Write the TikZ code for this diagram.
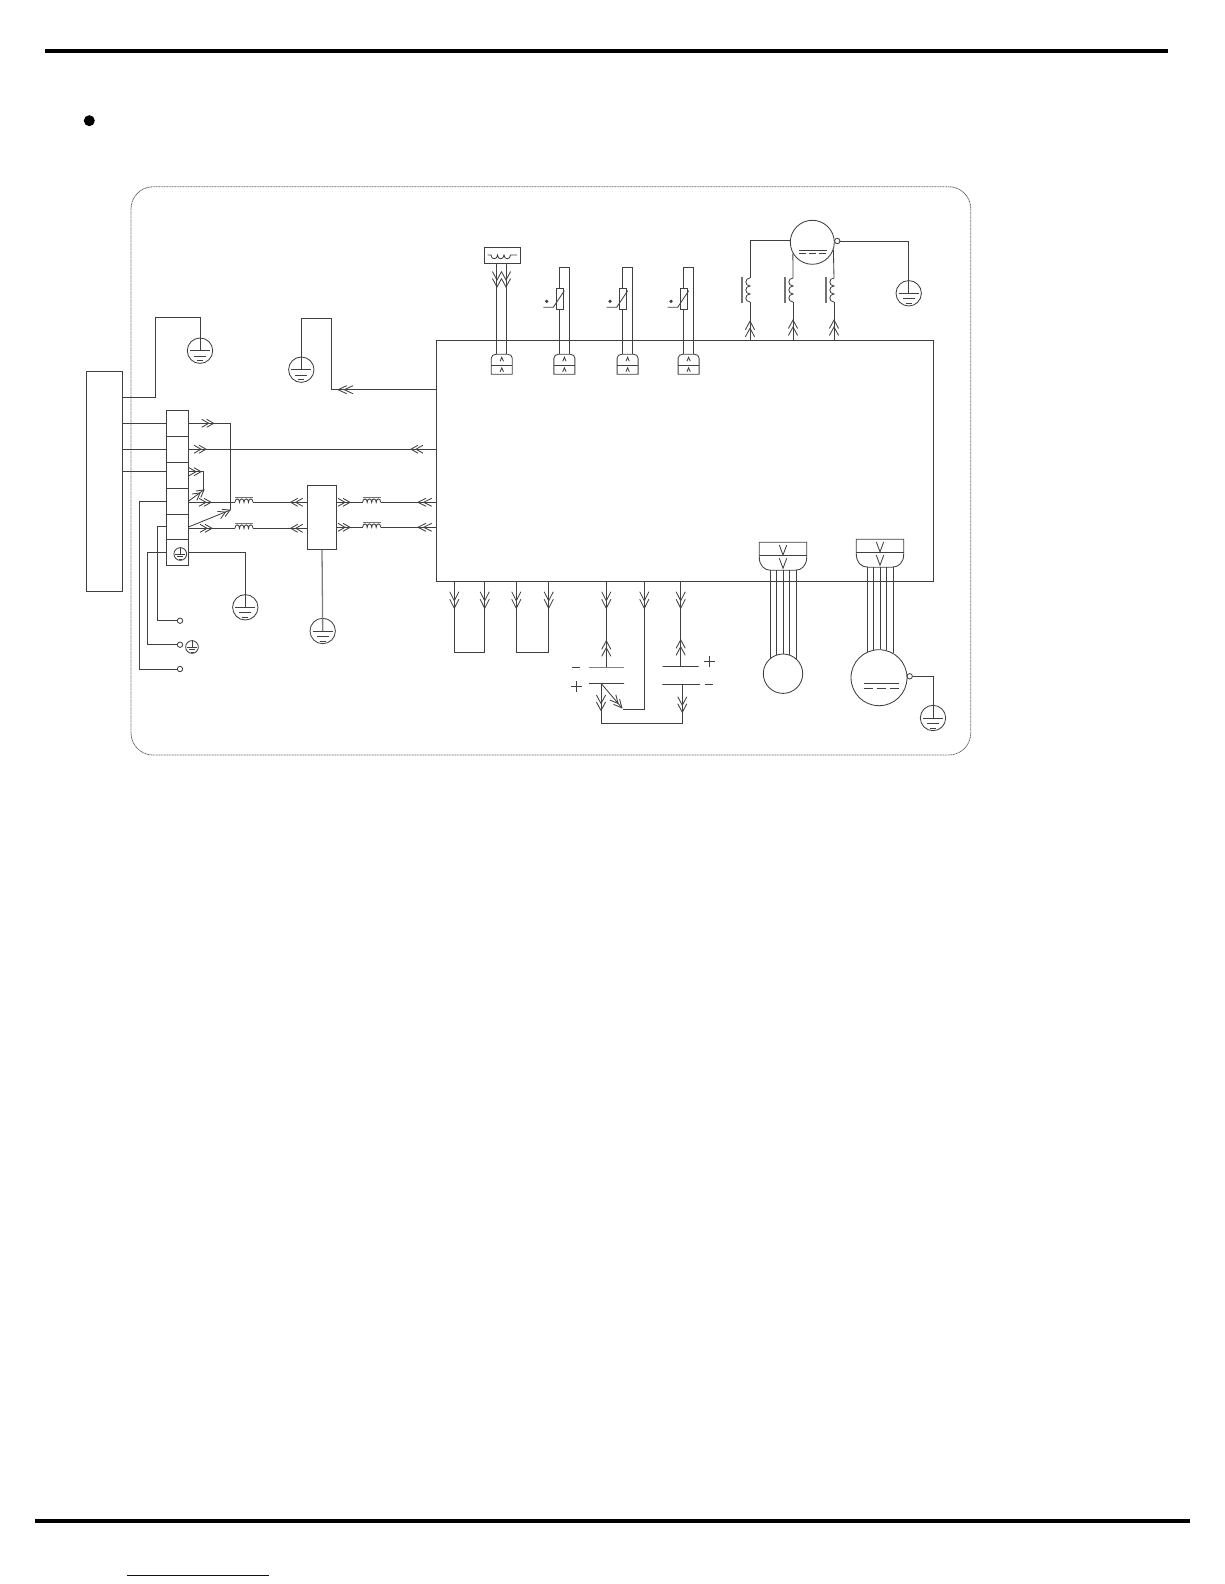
\documentclass[tikz,border=0pt]{standalone}
\usepackage{tikz}
\tikzset{
  box/.style={draw, rectangle, inner sep=0pt},
  termcell/.style={box, minimum width=21.6pt, minimum height=25.9pt},
  plate/.style={box, minimum height=0pt},
  ring/.style={draw, circle, inner sep=0pt},
  lug/.style={ring, minimum size=5.4pt},
  earth/.pic={
    \node[ring, minimum size=25.4pt, transform shape] (-ring) at (0,0){};
    \draw (-10,0) -- (10,0) (-6,5.5) -- (6,5.5) (-3,10) -- (3,10);
  },
  chevs/.pic={
    \draw (0,-4) -- (7,0) -- (0,4) (5,-4) -- (12,0) -- (5,4);
  },
  vees/.pic={
    \draw (0,-4.6) -- (8.5,0) -- (0,4.6) (7,-4.6) -- (15.5,0) -- (7,4.6);
  },
  choke/.pic={
    \coordinate (-in) at (0,0);
    \coordinate (-out) at (18,0);
    \draw (0,0) .. controls (0,-4.5) and (4.5,-4.5) .. (4.5,0)
      .. controls (4.5,-4.5) and (9,-4.5) .. (9,0)
      .. controls (9,-4.5) and (13.5,-4.5) .. (13.5,0)
      .. controls (13.5,-4.5) and (18,-4.5) .. (18,0);
    \draw[line width=1.2pt, black!55] (0,-4.5) -- (18,-4.5);
  },
  coil/.pic={
    \coordinate (-top) at (0,0);
    \coordinate (-bot) at (0,24);
    \draw (0,0) .. controls (-5.5,0) and (-5.5,8) .. (0,8)
      .. controls (-5.5,8) and (-5.5,16) .. (0,16)
      .. controls (-5.5,16) and (-5.5,24) .. (0,24);
    \draw[line width=1.2pt, black!55] (-8,-1) -- (-8,25);
  },
  plugup/.pic={
    \coordinate (-a) at (-5,-10);
    \coordinate (-b) at (5,-10);
    \draw (-10.5,10) -- (-10.5,-6) .. controls (-10.5,-8.5) and (-8.5,-10) .. (-6,-10)
      -- (6,-10) .. controls (8.5,-10) and (10.5,-8.5) .. (10.5,-6) -- (10.5,10) -- cycle;
    \draw (-10.5,.7) -- (10.5,.7);
    \draw (-1.7,-3) -- (0,-7) -- (1.7,-3) (-1.7,7.5) -- (0,3.5) -- (1.7,7.5);
  },
  plugdown/.pic={
    \coordinate (-a) at (-13,14);
    \coordinate (-b) at (-6.5,14);
    \coordinate (-c) at (0,14);
    \coordinate (-d) at (6.5,14);
    \coordinate (-e) at (13,14);
    \draw (-23.7,-14) -- (-23.7,1) .. controls (-23.7,9) and (-19,14) .. (-12,14)
      -- (12,14) .. controls (19,14) and (23.7,9) .. (23.7,1) -- (23.7,-14) -- cycle;
    \draw (-23.7,-.6) -- (23.7,-.6);
    \draw (-3.7,-11.3) -- (0,-1.3) -- (3.7,-11.3) (-3.7,2) -- (0,12) -- (3.7,2);
  }
}
\begin{document}
\begin{tikzpicture}[x=1pt, y=-1pt, line width=.85pt, color=black!75]
\useasboundingbox (0,0) rectangle (1224,1584);

\coordinate (topl) at (45,50.8);
\coordinate (topr) at (1168,50.8);
\coordinate (botl) at (35,1521);
\coordinate (botr) at (1190,1521);
\coordinate (linkl) at (127,1575);
\coordinate (linkr) at (269,1575);
\draw[line width=4pt, black] (topl) -- (topr);
\draw[line width=4pt, black] (botl) -- (botr);
\draw[line width=1pt, blue!60!black] (linkl) -- (linkr);
\node[circle, fill=black, inner sep=0pt, minimum size=11pt] (bul) at (89.3,120.7){};
\node[draw=black!60, dash pattern=on 1pt off .6pt, rectangle, rounded corners=22pt, inner sep=0pt,
  minimum width=839.7pt, minimum height=568.3pt] (frame) at (550.9,470.9){};

\node[box, minimum width=36.2pt, minimum height=220.7pt] (lead) at (104.6,481.4){};
\node[termcell] (term1) at (177.5,423.3){};
\node[termcell] (term2) at (177.5,449.2){};
\node[termcell] (term3) at (177.5,475.1){};
\node[termcell] (term4) at (177.5,501){};
\node[termcell] (term5) at (177.5,526.9){};
\node[termcell] (term6) at (177.5,552.8){};
\node[box, minimum width=29.4pt, minimum height=64.3pt] (filt) at (322,517.2){};
\node[box, minimum width=496.6pt, minimum height=241.4pt] (ctrl) at (685,461){};

\pic (g1) at (200,350.7) {earth};
\pic (g2) at (301.3,369.7) {earth};
\pic (g3) at (245.3,607.3) {earth};
\pic (g4) at (322.7,631) {earth};
\pic (g5) at (908.7,293.3) {earth};
\pic (g6) at (933,718) {earth};
\pic[scale=.5] (g7) at (180.3,554) {earth};
\pic[scale=.5] (g8) at (192,647) {earth};
\draw (g7-ring.north) -- (g7-ring.center);
\draw (g8-ring.north) -- (g8-ring.center);

\coordinate (c1a) at (155.3,397.3);
\coordinate (c1b) at (155.3,317.3);
\draw (lead.east |- c1a) -- (c1a) -- (c1b) -| (g1-ring.center);
\coordinate (c2a) at (331.7,389.7);
\coordinate (c2b) at (331.7,318.3);
\draw (ctrl.west |- c2a) -- (c2a) -- (c2b) -| (g2-ring.center);
\pic[rotate=180, xscale=1.25] at (353,389.7) {chevs};

\coordinate (c3) at (166.7,471.7);
\draw (lead.east |- term1.west) -- (term1.west);
\draw (lead.east |- term2.west) -- (term2.west);
\draw (lead.east |- c3) -- (c3);

\node[lug] (o1) at (180,669){};
\node[lug] (o2) at (180,644.7){};
\node[lug] (o3) at (180,620.7){};
\draw (term4.west) -| (139.3,669) -- (o1.west);
\draw (term5.west) -| (157.3,620.7) -- (o3.west);
\draw (term6.west) -| (147.7,644.7) -- (o2.west);

\coordinate (c4) at (230.3,510);
\coordinate (c5) at (203.7,471.7);
\coordinate (c6) at (203.7,490);
\draw (term1.east) -| (c4);
\draw (term5.east) -- (c4);
\draw (term3.east |- c5) -- (c5) -- (c6);
\draw (term4.east) -- (c6);
\draw (term2.east) -- (ctrl.west |- term2.east);
\draw (term6.east) -| (g3-ring.center);
\draw[line width=1.3pt, black!50] (filt.south) -- (g4-ring.center);
\pic at (201.7,423.3) {chevs};
\pic at (194,449.2) {chevs};
\pic at (189,471.7) {chevs};
\pic[rotate=37] at (194.4,497.2) {chevs};
\pic[rotate=24] at (219,515) {chevs};
\pic[rotate=180] at (423,449.2) {chevs};

\pic (ch1) at (235,502.3) {choke};
\pic (ch2) at (235,528.3) {choke};
\pic (ch3) at (362.7,502.3) {choke};
\pic (ch4) at (362.7,527.3) {choke};
\draw (term4.east |- ch1-in) -- (ch1-in);
\draw (term5.east |- ch2-in) -- (ch2-in);
\draw (ch1-out) -- (filt.west |- ch1-out);
\draw (ch2-out) -- (filt.west |- ch2-out);
\draw (filt.east |- ch3-in) -- (ch3-in);
\draw (filt.east |- ch4-in) -- (ch4-in);
\draw (ch3-out) -- (ctrl.west |- ch3-out);
\draw (ch4-out) -- (ctrl.west |- ch4-out);
\pic at (199,502.3) {chevs};
\pic at (200,528.3) {chevs};
\pic[rotate=180] at (302.7,502.3) {chevs};
\pic[rotate=180] at (302.7,528.3) {chevs};
\pic at (338,502.3) {chevs};
\pic at (338,527.3) {chevs};
\pic[rotate=180, xscale=1.15] at (431.7,502.3) {chevs};
\pic[rotate=180, xscale=1.15] at (431.7,527.3) {chevs};

\node[box, minimum width=36pt, minimum height=16pt] (heat) at (502.3,255.3){};
\draw (487.5,255) -- (491,255) .. controls (491,260) and (497.5,260) .. (497.5,255)
  .. controls (497.5,260) and (504,260) .. (504,255)
  .. controls (504,260) and (510.5,260) .. (510.5,255) -- (517,255);
\pic (p1) at (501.8,364.3) {plugup};
\pic (p2) at (564.4,364.3) {plugup};
\pic (p3) at (627.6,364.3) {plugup};
\pic (p4) at (688.6,364.3) {plugup};
\draw (p1-a) -- (p1-a |- heat.south);
\draw (p1-b) -- (p1-b |- heat.south);
\pic[rotate=-90] at (497,271.5) {vees};
\pic[rotate=-90] at (506,271.5) {vees};
\draw (p2-a) -- ++(0,-86.6) -| (p2-b);
\draw (p3-a) -- ++(0,-86.6) -| (p3-b);
\draw (p4-a) -- ++(0,-86.6) -| (p4-b);

\node[box, fill=white, minimum width=6.8pt, minimum height=21pt] (ntc1) at (559.7,298.8){};
\node[box, fill=white, minimum width=6.8pt, minimum height=21pt] (ntc2) at (623,298.8){};
\node[box, fill=white, minimum width=6.8pt, minimum height=21pt] (ntc3) at (684,298.8){};
\draw (543.3,307.3) -- (553.3,307.3) -- (564.3,290.7);
\draw (606.7,307.3) -- (616.7,307.3) -- (627.7,290.7);
\draw (667.7,307.3) -- (677.7,307.3) -- (688.7,290.7);
\fill (546.7,301.3) circle (1.8);
\fill (610,301.3) circle (1.8);
\fill (671,301.3) circle (1.8);

\node[ring, minimum size=44pt] (mot) at (812.3,242.3){};
\node[lug] (o4) at (837.3,241){};
\draw (799.3,250.3) -- (826.7,250.3);
\draw[dash pattern=on 7pt off 3pt] (799.3,253.7) -- (826.7,253.7);
\draw (o4.east) -| (g5-ring.center);
\pic (l1) at (750,278) {coil};
\pic (l2) at (793,278) {coil};
\pic (l3) at (834,278) {coil};
\draw (mot.176) -| (l1-top);
\draw (mot.210) -- (l2-top);
\draw (mot.-20) -- (l3-top);
\draw (l1-bot) -- (ctrl.north -| l1-bot);
\draw (l2-bot) -- (ctrl.north -| l2-bot);
\draw (l3-bot) -- (ctrl.north -| l3-bot);
\pic[rotate=90] at (750,336.7) {vees};
\pic[rotate=90] at (793,335.5) {vees};
\pic[rotate=90] at (834,335.5) {vees};

\coordinate (sh1a) at (454.3,652.7);
\coordinate (sh1b) at (484.7,652.7);
\coordinate (sh2a) at (516.3,652.7);
\coordinate (sh2b) at (548.7,652.7);
\draw (ctrl.south -| sh1a) -- (sh1a) -- (sh1b) -- (ctrl.south -| sh1b);
\draw (ctrl.south -| sh2a) -- (sh2a) -- (sh2b) -- (ctrl.south -| sh2b);

\node[plate, minimum width=35pt] (cap1a) at (606.3,667){};
\node[plate, minimum width=35pt] (cap1b) at (606.5,683.3){};
\node[plate, minimum width=36pt] (cap2a) at (680.7,666.7){};
\node[plate, minimum width=37.7pt] (cap2b) at (681.2,684.3){};
\draw (cap1a.center) -- (ctrl.south -| cap1a.center);
\draw (cap2a.center) -- (ctrl.south -| cap2a.center);
\coordinate (c7) at (601,683.3);
\coordinate (c8) at (601,723.3);
\coordinate (c9) at (682.3,723.3);
\coordinate (c10) at (622,708);
\coordinate (c11) at (623.3,709.3);
\coordinate (c12) at (644.3,581.7);
\draw (c7) -- (c8) -- (c9) -- (c9 |- cap2b.center);
\draw (c7) -- (c10);
\draw (c11) -| (c12);
\pic[rotate=-49, xscale=1.15] at (612.8,697.4) {chevs};
\pic[rotate=-90] at (601,695) {vees};
\pic[rotate=-90] at (682.3,696.7) {vees};
\pic[rotate=90] at (606.3,656.3) {vees};
\pic[rotate=90] at (680.7,655.3) {vees};
\pic[rotate=-90, xscale=1.07] at (454.3,591.7) {vees};
\pic[rotate=-90, xscale=1.07] at (484.7,591.7) {vees};
\pic[rotate=-90, xscale=1.07] at (516.3,591.7) {vees};
\pic[rotate=-90, xscale=1.07] at (548.7,591.7) {vees};
\pic[rotate=-90, xscale=1.07] at (606.3,591.7) {vees};
\pic[rotate=-90, xscale=1.07] at (644.3,591.7) {vees};
\pic[rotate=-90, xscale=1.07] at (680.7,591.7) {vees};
\draw (572,667) -- (580,667);
\draw (571.2,686.3) -- (582.2,686.3) (576.7,680.8) -- (576.7,691.8);
\draw (703.8,661.3) -- (714.8,661.3) (709.3,655.8) -- (709.3,666.8);
\draw (705.3,684.3) -- (713.3,684.3);

\pic (pd1) at (783,556.3) {plugdown};
\pic (pd2) at (880,553.2) {plugdown};
\node[ring, minimum size=39.4pt] (fan) at (783,673.7){};
\node[ring, minimum size=56pt] (comp) at (879,677.7){};
\node[lug] (o5) at (909.7,676.3){};
\draw (pd1-a) -- (pd1-a |- fan.131);
\draw (pd1-b) -- (pd1-b |- fan.109);
\draw (pd1-c) -- (pd1-c |- fan.90);
\draw (pd1-d) -- (pd1-d |- fan.71);
\draw (pd1-e) -- (pd1-e |- fan.49);
\draw (pd2-a) -- (pd2-a |- comp.115);
\draw (pd2-b) -- (pd2-b |- comp.101);
\draw (pd2-c) -- (pd2-c |- comp.88);
\draw (pd2-d) -- (pd2-d |- comp.75);
\draw (pd2-e) -- (pd2-e |- comp.60);
\draw (864,683.3) -- (899,683.3);
\draw[dash pattern=on 9pt off 4pt] (864,688.3) -- (899,688.3);
\draw (o5.east) -| (g6-ring.center);
\end{tikzpicture}
\end{document}
